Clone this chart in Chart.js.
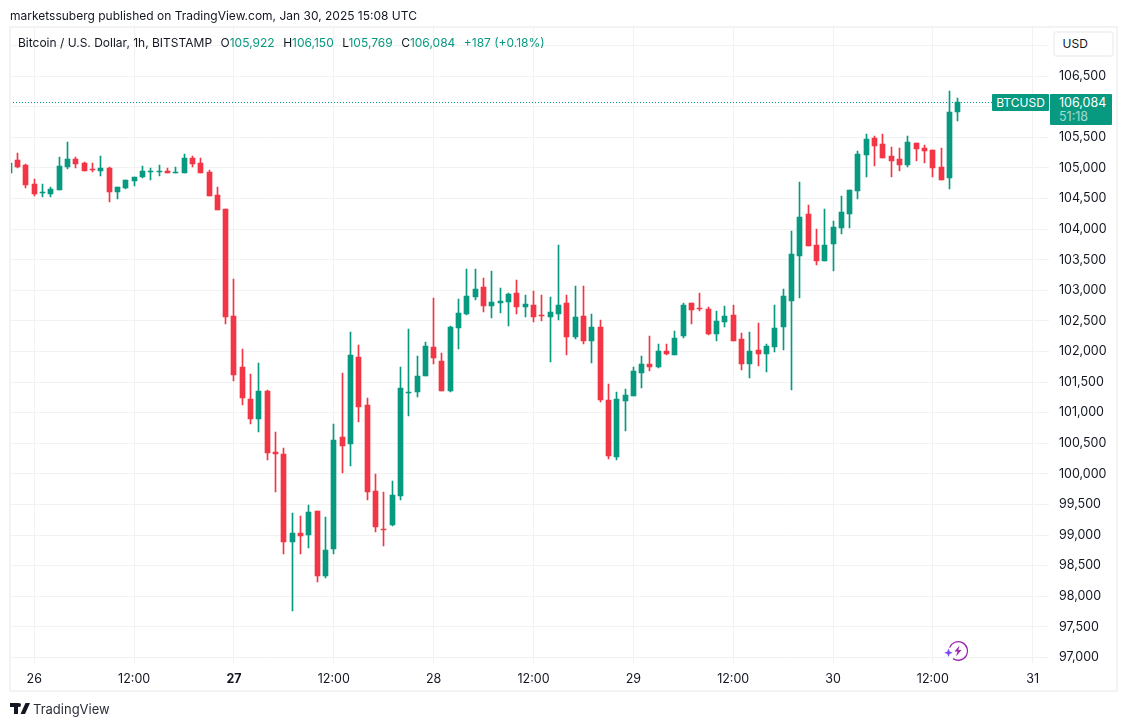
<!DOCTYPE html>
<html>
<head>
<meta charset="utf-8">
<title>BTCUSD 1h</title>
<script src="https://cdn.jsdelivr.net/npm/chart.js@4/dist/chart.umd.min.js"></script>
<style>
  html, body { margin: 0; padding: 0; background: #fff; }
  body { width: 1127px; height: 726px; position: relative; overflow: hidden; font-family: Inter, sans-serif; color: #131722; }
  canvas { position: absolute; left: 0; top: 0; }
  .abs { position: absolute; white-space: nowrap; }
  #frame { left: 9px; top: 26px; width: 1105px; height: 662px; border: 2px solid #f3f3f3; }
  #published { left: 10px; top: 8px; font-size: 12px; line-height: 15px; }
  #legend { left: 18px; top: 35px; font-size: 12px; line-height: 15px; }
  #legend b { font-weight: 400; color: #089981; }
  #legend .gap { margin-left: 8.5px; }
  #usd { left: 1053px; top: 31px; width: 61px; height: 26px; box-sizing: border-box; border: 2px solid #f3f3f3; border-radius: 4px; font-size: 12px; line-height: 22px; padding-left: 7.5px; background: #fff; }
  #tag { left: 992px; top: 94px; width: 57px; height: 17px; background: #089981; color: #fff; font-size: 12px; line-height: 17px; text-align: center; border-radius: 1px; }
  #price { left: 1050px; top: 94px; width: 62px; height: 31px; background: #089981; color: #fff; font-size: 12.5px; line-height: 14px; border-radius: 1px; padding-left: 9px; box-sizing: border-box; padding-top: 1.5px; }
  #price span { color: rgba(255,255,255,.65); }
  #brand { left: 33px; top: 701px; font-size: 13px; line-height: 16px; color: #2a2e39; }
</style>
</head>
<body>
<canvas id="chart" width="1127" height="726"></canvas>
<div class="abs" id="frame"></div>
<div class="abs" id="published">marketssuberg published on TradingView.com, Jan 30, 2025 15:08 UTC</div>
<div class="abs" id="legend">Bitcoin / U.S. Dollar, 1h, BITSTAMP<span class="gap"></span>O<b>105,922</b><span class="gap"></span>H<b>106,150</b><span class="gap"></span>L<b>105,769</b><span class="gap"></span>C<b>106,084</b><span class="gap"></span><b>+187 (+0.18%)</b></div>
<div class="abs" id="usd">USD</div>
<div class="abs" id="tag">BTCUSD</div>
<div class="abs" id="price">106,084<br><span>51:18</span></div>
<svg class="abs" style="left:10px;top:703px" width="20" height="12" viewBox="0 0 20 12">
  <path fill="#131722" d="M0 0h8v11H4V4H0zM15.5 0H20l-5 11h-4.5zM9 0a2 2 0 1 1 0 4 2 2 0 0 1 0-4z"/>
</svg>
<div class="abs" id="brand">TradingView</div>
<svg class="abs" style="left:941px;top:639px" width="30" height="24" viewBox="0 0 30 24">
  <path fill="none" stroke="#9c27b0" stroke-width="1.3" d="M8.6 8.5A9.3 9.3 0 1 1 12 19.6"/>
  <path fill="#9c27b0" d="M18.5 6.5l-5 6h3l-1.5 5 5.5-6.5h-3.2z"/>
  <path fill="#7b4dff" d="M7.5 9.5l1.2 3 3 1.2-3 1.2-1.2 3-1.2-3-3-1.2 3-1.2z"/>
</svg>
<script>
  "use strict";

  // hour of the first candle, counted from Jan 26 00:00 UTC
  const firstHour = -3;

  const opens = [104915, 105128, 105046, 104736, 104589, 104572, 104637, 105013, 105144, 105079, 104981, 104948, 104997, 104605, 104670,
    104785, 104850, 104932, 104932, 104948, 104915, 104915, 105160, 105079, 104932, 104556, 104327, 102579, 101745, 101222, 100896,
    101353, 100356, 100324, 98886, 99033, 99000, 99392, 98330, 98771, 100601, 100487, 101909, 101124, 99719, 99098, 99163, 99637,
    101320, 101336, 101598, 102072, 101843, 101353, 102383, 102612, 102889, 103052, 102742, 102791, 102807, 102954, 102726, 102758,
    102595, 102562, 102611, 102791, 102235, 102578, 102170, 102399, 101206, 100275, 101190, 101271, 101647, 101794, 101745, 102007,
    101941, 102252, 102791, 102709, 102693, 102284, 102481, 102595, 102203, 101794, 102023, 101958, 102072, 102399, 102824, 103559,
    104245, 103739, 103478, 103755, 104016, 104245, 104621, 105209, 105487, 105389, 105193, 105144, 105046, 105405, 105323, 105291,
    105013, 104834, 105922];
  const highs = [105079, 105242, 105062, 104817, 104736, 104686, 105177, 105421, 105177, 105095, 105079, 105193, 105013, 104686, 104801,
    104850, 105030, 104997, 105046, 104997, 105013, 105226, 105193, 105160, 104964, 104686, 104327, 103183, 102040, 101631, 101811,
    101369, 100683, 100422, 99360, 99311, 99490, 99392, 99295, 100814, 101647, 102317, 102105, 101239, 99997, 99703, 99883, 101745,
    102366, 101925, 102154, 102873, 101974, 102415, 102856, 103347, 103347, 103199, 103314, 103036, 102954, 103167, 102922, 102987,
    102922, 102889, 103739, 102922, 103069, 103069, 102611, 102513, 101467, 101336, 101385, 101745, 101925, 102252, 102121, 102121,
    102333, 102791, 102791, 102954, 102726, 102660, 102742, 102758, 102300, 102317, 102464, 102121, 102758, 103020, 103967, 104768,
    104392, 104000, 104327, 104131, 104539, 104637, 105275, 105552, 105519, 105552, 105340, 105323, 105519, 105405, 105372, 105291,
    105323, 106255, 106150];
  const lows = [104915, 104997, 104670, 104539, 104523, 104523, 104637, 104981, 104997, 104948, 104932, 104866, 104441, 104490, 104654,
    104703, 104834, 104801, 104866, 104915, 104915, 104915, 105013, 104915, 104539, 104311, 102448, 101516, 101124, 100814, 100683,
    100226, 99703, 98690, 97758, 98690, 98788, 98232, 98298, 98690, 100013, 100128, 100846, 99572, 99049, 98820, 99147, 99572,
    100945, 101255, 101598, 101794, 101353, 101337, 102040, 102595, 102840, 102644, 102546, 102628, 102415, 102611, 102562, 102481,
    102497, 101827, 102513, 101941, 102203, 102121, 101811, 101173, 100242, 100226, 100700, 101271, 101402, 101680, 101729, 101941,
    101941, 102219, 102448, 102660, 102268, 102170, 102399, 102170, 101696, 101565, 101761, 101663, 101990, 102023, 101369, 102873,
    103722, 103412, 103478, 103314, 103918, 104016, 104490, 104850, 105030, 105160, 104850, 104948, 105013, 105111, 105079, 104850,
    104801, 104654, 105769];
  const closes = [105079, 105013, 104719, 104572, 104605, 104654, 105030, 105144, 105062, 104948, 104964, 104997, 104605, 104686, 104801,
    104850, 104948, 104948, 104948, 104915, 104932, 105160, 105062, 104915, 104539, 104311, 102562, 101614, 101239, 100896, 101353,
    100340, 100324, 98886, 99033, 98984, 99376, 98330, 98755, 100552, 100454, 101941, 101092, 99703, 99131, 99082, 99654, 101402,
    101336, 101598, 102088, 101892, 101353, 102399, 102628, 102905, 103020, 102742, 102807, 102824, 102938, 102726, 102775, 102562,
    102578, 102644, 102758, 102235, 102562, 102170, 102399, 101206, 100291, 101222, 101288, 101680, 101794, 101745, 102007, 101958,
    102219, 102758, 102677, 102693, 102284, 102497, 102579, 102170, 101794, 102007, 101958, 102088, 102383, 102905, 103592, 104196,
    103722, 103478, 103739, 104033, 104278, 104637, 105226, 105470, 105356, 105160, 105111, 105046, 105421, 105307, 105275, 104997,
    104801, 105922, 106084];

  const lastPrice = 106084;
  const priceTicks = [97000, 97500, 98000, 98500, 99000, 99500, 100000, 100500, 101000, 101500, 102000, 102500,
    103000, 103500, 104000, 104500, 105000, 105500, 106000, 106500, 107000];
  const hiddenPriceLabels = [106000, 107000];
  const timeTicks = [0, 12, 24, 36, 48, 60, 72, 84, 96, 108, 120];
  const timeLabels = ["26", "12:00", "27", "12:00", "28", "12:00", "29", "12:00", "30", "12:00", "31"];

  const GREEN = "#089981", RED = "#F23645", GRID = "#f2f2f2", TICK = "#131722";
  const xMin = -2.92, xMax = 121.96;

  const hours = opens.map((_, i) => firstHour + i);
  const candleColors = opens.map((o, i) => (closes[i] >= o ? GREEN : RED));

  // snap candles and the price line to whole pixels so they stay 1px sharp
  const snapCandles = {
    id: "snapCandles",
    afterDatasetsUpdate(chart) {
      chart.getDatasetMeta(0).data.forEach((pt) => { pt.y = Math.round(pt.y) + 0.5; });
      [1, 2].forEach((d) => {
        chart.getDatasetMeta(d).data.forEach((bar) => {
          bar.x = Math.floor(bar.x) + 0.5;
          bar.y = Math.round(bar.y);
          bar.base = Math.round(bar.base);
          if (bar.y === bar.base) bar.base += 1;
        });
      });
    },
  };

  new Chart(document.getElementById("chart"), {
    type: "bar",
    plugins: [snapCandles],
    data: {
      datasets: [
        {
          type: "line",
          data: [{ x: xMin, y: lastPrice }, { x: xMax, y: lastPrice }],
          borderColor: GREEN, borderWidth: 1, borderDash: [1, 2], pointRadius: 0, order: 3,
        },
        {
          label: "wick",
          data: hours.map((h, i) => ({ x: h, y: [lows[i], highs[i]] })),
          backgroundColor: candleColors, barThickness: 1, grouped: false, order: 2,
        },
        {
          label: "body",
          data: hours.map((h, i) => ({ x: h, y: [opens[i], closes[i]] })),
          backgroundColor: candleColors, barThickness: 5, grouped: false, order: 1,
        },
      ],
    },
    options: {
      responsive: false,
      devicePixelRatio: 1,
      animation: false,
      layout: { padding: { left: 10, right: 10, top: 28, bottom: 35 } },
      plugins: { legend: { display: false }, tooltip: { enabled: false } },
      scales: {
        x: {
          type: "linear", min: xMin, max: xMax, offset: false,
          afterBuildTicks: (s) => { s.ticks = timeTicks.map((value) => ({ value })); },
          afterFit: (s) => { s.height = 28.5; },
          grid: { color: GRID, drawTicks: false, offset: false },
          border: { display: false },
          ticks: {
            color: TICK, padding: 9, maxRotation: 0, autoSkip: false,
            font: (c) => ({ family: "Inter", size: 12.5, weight: c.tick && c.tick.value === 24 ? "700" : "400" }),
            callback: (v) => timeLabels[timeTicks.indexOf(v)],
          },
        },
        y: {
          position: "right", min: 96917, max: 107288,
          afterBuildTicks: (s) => { s.ticks = priceTicks.map((value) => ({ value })); },
          afterFit: (s) => { s.width = 68; },
          grid: { color: GRID, drawTicks: false },
          border: { display: false },
          ticks: {
            color: TICK, padding: 10, autoSkip: false,
            font: { family: "Inter", size: 12.5 },
            callback: (v) => (hiddenPriceLabels.includes(v) ? "" : v.toLocaleString("en-US")),
          },
        },
      },
    },
  });
</script>
</body>
</html>
